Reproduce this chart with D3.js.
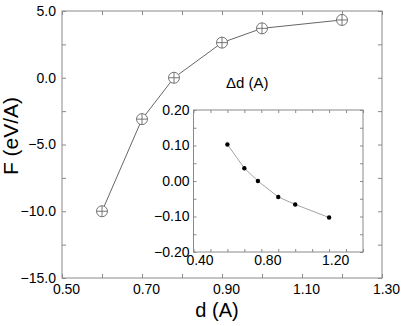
<!DOCTYPE html>
<html>
<head>
<meta charset="utf-8">
<script src="https://cdn.jsdelivr.net/npm/d3@7"></script>
<style>
  body { margin: 0; background: #fff; }
  svg { display: block; font-family: "Liberation Sans", Arial, sans-serif; }
  .frame { fill: none; stroke: #8a8a8a; stroke-width: 1; }
  .tick line { stroke: #8a8a8a; }
  .domain { display: none; }
</style>
</head>
<body>
<div id="chart"></div>
<script>
const width = 415;
const height = 326;

// main panel: force vs distance
const dist = [0.60, 0.70, 0.78, 0.90, 1.00, 1.20];
const force = [-10.0, -3.1, 0.0, 2.63, 3.7, 4.33];
const mainXTicks = [0.5, 0.6, 0.7, 0.8, 0.9, 1.0, 1.1, 1.2, 1.3];
const mainXLabels = [0.5, 0.7, 0.9, 1.1, 1.3];
const mainYTicks = [-15, -12.5, -10, -7.5, -5, -2.5, 0, 2.5, 5];
const mainYLabels = [-15, -10, -5, 0, 5];

// inset: displacement vs distance
const insetDist = [0.60, 0.70, 0.78, 0.90, 1.00, 1.20];
const delta = [0.103, 0.036, 0.0, -0.045, -0.066, -0.103];
const insetXTicks = [0.4, 0.5, 0.6, 0.7, 0.8, 0.9, 1.0, 1.1, 1.2, 1.3, 1.4];
const insetXLabels = [0.4, 0.8, 1.2];
const insetYTicks = [-0.2, -0.15, -0.1, -0.05, 0, 0.05, 0.1, 0.15, 0.2];
const insetYLabels = [-0.2, -0.1, 0, 0.1, 0.2];

const main = { left: 62, right: 382, top: 11, bottom: 278 };
const inset = { left: 193.5, right: 363, top: 110, bottom: 252 };

const svg = d3.select("#chart")
  .append("svg")
  .attr("width", width)
  .attr("height", height);

const isIn = (arr, v) => arr.some((a) => Math.abs(a - v) < 1e-9);

const drawFrame = (box, x, y, xTicks, xLabels, yTicks, yLabels, fmtX, fmtY, opts) => {
  const g = svg.append("g");
  const tl = opts.tickLen;

  // bottom axis, ticks pointing in
  g.append("g")
    .attr("transform", `translate(0,${box.bottom})`)
    .call(d3.axisBottom(x).tickValues(xTicks).tickSize(-tl).tickPadding(tl + opts.xPad)
      .tickFormat((d) => (isIn(xLabels, d) ? fmtX(d) : "")))
    .call((s) => s.selectAll("text").attr("dx", opts.xShift));

  g.append("g")
    .attr("transform", `translate(0,${box.top})`)
    .call(d3.axisTop(x).tickValues(xTicks).tickSize(-tl).tickFormat(""));

  g.append("g")
    .attr("transform", `translate(${box.left},0)`)
    .call(d3.axisLeft(y).tickValues(yTicks).tickSize(-tl).tickPadding(tl + opts.yPad)
      .tickFormat((d) => (isIn(yLabels, d) ? fmtY(d) : "")));

  g.append("g")
    .attr("transform", `translate(${box.right},0)`)
    .call(d3.axisRight(y).tickValues(yTicks).tickSize(-tl).tickFormat(""));

  g.selectAll("text")
    .attr("fill", "#000")
    .style("font-size", "14px")
    .style("font-family", "'Liberation Sans', Arial, sans-serif");

  g.append("rect")
    .attr("class", "frame")
    .attr("x", box.left)
    .attr("y", box.top)
    .attr("width", box.right - box.left)
    .attr("height", box.bottom - box.top);
  return g;
};

// ---- main panel ----
const x = d3.scaleLinear().domain([0.5, 1.3]).range([main.left, main.right]);
const y = d3.scaleLinear().domain([-15, 5]).range([main.bottom, main.top]);

drawFrame(main, x, y, mainXTicks, mainXLabels, mainYTicks, mainYLabels,
  d3.format(".2f"), d3.format(".1f"), { tickLen: 4, xPad: 2, yPad: 2, xShift: 4 });

const mainPts = dist.map((d, i) => ({ d, f: force[i] }));

svg.append("path")
  .datum(mainPts)
  .attr("fill", "none")
  .attr("stroke", "#555")
  .attr("stroke-width", 0.9)
  .attr("d", d3.line().x((p) => x(p.d)).y((p) => y(p.f)));

const markers = svg.append("g")
  .selectAll("g")
  .data(mainPts)
  .join("g")
  .attr("transform", (p) => `translate(${x(p.d)},${y(p.f)})`)
  .attr("stroke", "#666")
  .attr("stroke-width", 0.9);

markers.append("circle").attr("r", 5.5).attr("fill", "#fff");
markers.append("line").attr("x1", -5.5).attr("x2", 5.5);
markers.append("line").attr("y1", -5.5).attr("y2", 5.5);

// axis titles
svg.append("text")
  .attr("x", 217)
  .attr("y", 317)
  .attr("text-anchor", "middle")
  .style("font-size", "20px")
  .text("d (A)");

svg.append("text")
  .attr("transform", "translate(18,136) rotate(-90)")
  .attr("text-anchor", "middle")
  .style("font-size", "21px")
  .text("F (eV/A)");

// ---- inset ----
const xi = d3.scaleLinear().domain([0.4, 1.4]).range([inset.left, inset.right]);
const yi = d3.scaleLinear().domain([-0.2, 0.2]).range([inset.bottom, inset.top]);

svg.append("rect")
  .attr("x", inset.left)
  .attr("y", inset.top)
  .attr("width", inset.right - inset.left)
  .attr("height", inset.bottom - inset.top)
  .attr("fill", "#fff");

drawFrame(inset, xi, yi, insetXTicks, insetXLabels, insetYTicks, insetYLabels,
  d3.format(".2f"), d3.format(".2f"), { tickLen: 3, xPad: 0, yPad: 1, xShift: 6 });

const insetPts = insetDist.map((d, i) => ({ d, v: delta[i] }));

svg.append("path")
  .datum(insetPts)
  .attr("fill", "none")
  .attr("stroke", "#999")
  .attr("stroke-width", 0.9)
  .attr("d", d3.line().x((p) => xi(p.d)).y((p) => yi(p.v)));

svg.append("g")
  .selectAll("circle")
  .data(insetPts)
  .join("circle")
  .attr("cx", (p) => xi(p.d))
  .attr("cy", (p) => yi(p.v))
  .attr("r", 2.2)
  .attr("fill", "#000");

svg.append("text")
  .attr("x", 226)
  .attr("y", 88)
  .style("font-size", "15px")
  .text("\u0394d (A)");
</script>
</body>
</html>
